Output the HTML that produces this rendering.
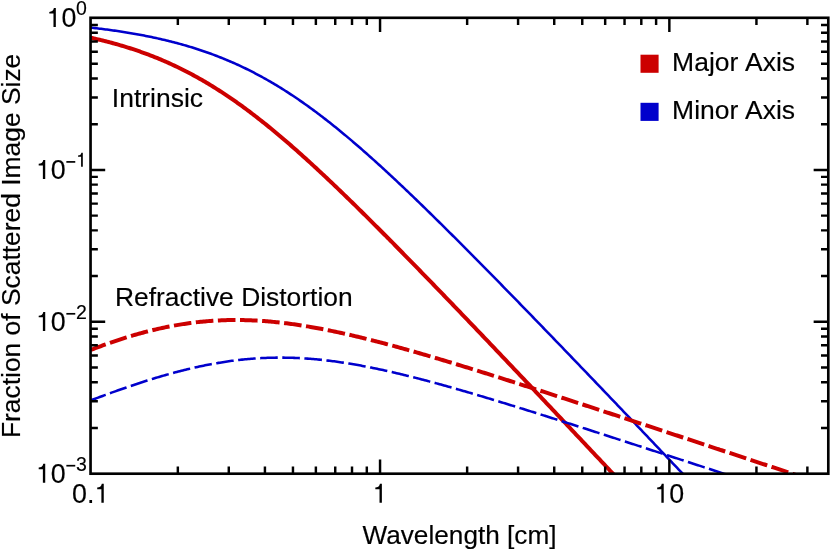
<!DOCTYPE html>
<html><head><meta charset="utf-8"><title>plot</title>
<style>
html,body{margin:0;padding:0;background:#fff;}
svg{display:block;will-change:transform;}
text{font-family:"Liberation Sans",sans-serif;fill:#000;stroke:#000;stroke-width:0.15px;}
</style></head><body>
<svg width="830" height="550" viewBox="0 0 830 550">
<rect width="830" height="550" fill="#fff"/>
<defs><clipPath id="c"><rect x="90.75" y="18.0" width="737.55" height="456.9"/></clipPath></defs>
<g clip-path="url(#c)" fill="none" stroke-linecap="butt" stroke-linejoin="round">
<path d="M90.75,37.74 L92.23,38.07 L93.72,38.40 L95.20,38.74 L96.69,39.08 L98.17,39.43 L99.66,39.78 L101.14,40.14 L102.62,40.50 L104.11,40.87 L105.59,41.25 L107.08,41.63 L108.56,42.01 L110.04,42.40 L111.53,42.80 L113.01,43.20 L114.50,43.61 L115.98,44.02 L117.47,44.44 L118.95,44.87 L120.43,45.30 L121.92,45.73 L123.40,46.18 L124.89,46.63 L126.37,47.08 L127.85,47.55 L129.34,48.01 L130.82,48.49 L132.31,48.97 L133.79,49.46 L135.28,49.96 L136.76,50.46 L138.24,50.97 L139.73,51.48 L141.21,52.01 L142.70,52.54 L144.18,53.07 L145.66,53.62 L147.15,54.17 L148.63,54.73 L150.12,55.29 L151.60,55.87 L153.09,56.45 L154.57,57.03 L156.05,57.63 L157.54,58.23 L159.02,58.84 L160.51,59.46 L161.99,60.09 L163.48,60.72 L164.96,61.37 L166.44,62.02 L167.93,62.67 L169.41,63.34 L170.90,64.02 L172.38,64.70 L173.86,65.39 L175.35,66.09 L176.83,66.79 L178.32,67.51 L179.80,68.23 L181.29,68.96 L182.77,69.70 L184.25,70.45 L185.74,71.21 L187.22,71.97 L188.71,72.75 L190.19,73.53 L191.67,74.32 L193.16,75.12 L194.64,75.93 L196.13,76.74 L197.61,77.57 L199.10,78.40 L200.58,79.24 L202.06,80.09 L203.55,80.95 L205.03,81.82 L206.52,82.70 L208.00,83.58 L209.48,84.47 L210.97,85.38 L212.45,86.29 L213.94,87.20 L215.42,88.13 L216.91,89.07 L218.39,90.01 L219.87,90.96 L221.36,91.92 L222.84,92.89 L224.33,93.87 L225.81,94.86 L227.29,95.85 L228.78,96.85 L230.26,97.86 L231.75,98.88 L233.23,99.91 L234.72,100.94 L236.20,101.99 L237.68,103.04 L239.17,104.10 L240.65,105.16 L242.14,106.24 L243.62,107.32 L245.11,108.41 L246.59,109.51 L248.07,110.61 L249.56,111.72 L251.04,112.84 L252.53,113.97 L254.01,115.10 L255.49,116.25 L256.98,117.40 L258.46,118.55 L259.95,119.71 L261.43,120.88 L262.92,122.06 L264.40,123.24 L265.88,124.43 L267.37,125.63 L268.85,126.84 L270.34,128.05 L271.82,129.26 L273.30,130.48 L274.79,131.71 L276.27,132.95 L277.76,134.19 L279.24,135.44 L280.73,136.69 L282.21,137.95 L283.69,139.21 L285.18,140.48 L286.66,141.76 L288.15,143.04 L289.63,144.33 L291.11,145.62 L292.60,146.92 L294.08,148.22 L295.57,149.53 L297.05,150.84 L298.54,152.16 L300.02,153.48 L301.50,154.81 L302.99,156.14 L304.47,157.48 L305.96,158.82 L307.44,160.17 L308.93,161.52 L310.41,162.87 L311.89,164.23 L313.38,165.60 L314.86,166.96 L316.35,168.34 L317.83,169.71 L319.31,171.09 L320.80,172.47 L322.28,173.86 L323.77,175.25 L325.25,176.65 L326.74,178.04 L328.22,179.45 L329.70,180.85 L331.19,182.26 L332.67,183.67 L334.16,185.09 L335.64,186.50 L337.12,187.92 L338.61,189.35 L340.09,190.78 L341.58,192.21 L343.06,193.64 L344.55,195.07 L346.03,196.51 L347.51,197.95 L349.00,199.40 L350.48,200.84 L351.97,202.29 L353.45,203.74 L354.93,205.20 L356.42,206.65 L357.90,208.11 L359.39,209.57 L360.87,211.04 L362.36,212.50 L363.84,213.97 L365.32,215.44 L366.81,216.91 L368.29,218.39 L369.78,219.86 L371.26,221.34 L372.75,222.82 L374.23,224.30 L375.71,225.79 L377.20,227.27 L378.68,228.76 L380.17,230.25 L381.65,231.74 L383.13,233.23 L384.62,234.72 L386.10,236.22 L387.59,237.72 L389.07,239.22 L390.56,240.72 L392.04,242.22 L393.52,243.72 L395.01,245.22 L396.49,246.73 L397.98,248.24 L399.46,249.75 L400.94,251.26 L402.43,252.77 L403.91,254.28 L405.40,255.79 L406.88,257.31 L408.37,258.82 L409.85,260.34 L411.33,261.86 L412.82,263.38 L414.30,264.90 L415.79,266.42 L417.27,267.94 L418.75,269.47 L420.24,270.99 L421.72,272.52 L423.21,274.04 L424.69,275.57 L426.18,277.10 L427.66,278.63 L429.14,280.16 L430.63,281.69 L432.11,283.22 L433.60,284.76 L435.08,286.29 L436.56,287.83 L438.05,289.36 L439.53,290.90 L441.02,292.43 L442.50,293.97 L443.99,295.51 L445.47,297.05 L446.95,298.59 L448.44,300.13 L449.92,301.67 L451.41,303.22 L452.89,304.76 L454.38,306.30 L455.86,307.85 L457.34,309.39 L458.83,310.94 L460.31,312.49 L461.80,314.03 L463.28,315.58 L464.76,317.13 L466.25,318.68 L467.73,320.23 L469.22,321.78 L470.70,323.33 L472.19,324.88 L473.67,326.43 L475.15,327.98 L476.64,329.54 L478.12,331.09 L479.61,332.64 L481.09,334.20 L482.57,335.75 L484.06,337.31 L485.54,338.86 L487.03,340.42 L488.51,341.98 L490.00,343.54 L491.48,345.09 L492.96,346.65 L494.45,348.21 L495.93,349.77 L497.42,351.33 L498.90,352.89 L500.38,354.45 L501.87,356.01 L503.35,357.57 L504.84,359.14 L506.32,360.70 L507.81,362.26 L509.29,363.83 L510.77,365.39 L512.26,366.95 L513.74,368.52 L515.23,370.08 L516.71,371.65 L518.20,373.21 L519.68,374.78 L521.16,376.35 L522.65,377.91 L524.13,379.48 L525.62,381.05 L527.10,382.61 L528.58,384.18 L530.07,385.75 L531.55,387.32 L533.04,388.89 L534.52,390.46 L536.01,392.03 L537.49,393.60 L538.97,395.17 L540.46,396.74 L541.94,398.31 L543.43,399.88 L544.91,401.45 L546.39,403.02 L547.88,404.60 L549.36,406.17 L550.85,407.74 L552.33,409.31 L553.82,410.89 L555.30,412.46 L556.78,414.03 L558.27,415.61 L559.75,417.18 L561.24,418.75 L562.72,420.33 L564.20,421.90 L565.69,423.48 L567.17,425.05 L568.66,426.63 L570.14,428.20 L571.63,429.78 L573.11,431.36 L574.59,432.93 L576.08,434.51 L577.56,436.08 L579.05,437.66 L580.53,439.24 L582.02,440.81 L583.50,442.39 L584.98,443.97 L586.47,445.55 L587.95,447.12 L589.44,448.70 L590.92,450.28 L592.40,451.85 L593.89,453.43 L595.37,455.01 L596.86,456.59 L598.34,458.17 L599.83,459.74 L601.31,461.32 L602.79,462.90 L604.28,464.48 L605.76,466.06 L607.25,467.63 L608.73,469.21 L610.21,470.79 L611.70,472.37 L613.18,473.95 L614.67,475.53 L616.15,477.10 L617.64,478.68 L619.12,480.26 L620.60,481.84 L622.09,483.42 L623.57,485.00 L625.06,486.57 L626.54,488.15 L628.02,489.73 L629.51,491.31 L630.99,492.89 L632.48,494.46 L633.96,496.04 L635.45,497.62 L636.93,499.20 L638.41,500.77 L639.90,502.35 L641.38,503.93 L642.87,505.50 L644.35,507.08 L645.83,508.66 L647.32,510.23 L648.80,511.81 L650.29,513.38 L651.77,514.96 L653.26,516.54 L654.74,518.11 L656.22,519.69 L657.71,521.26 L659.19,522.83 L660.68,524.41 L662.16,525.98 L663.65,527.56 L665.13,529.13 L666.61,530.70 L668.10,532.27 L669.58,533.85 L671.07,535.42 L672.55,536.99 L674.03,538.56 L675.52,540.13 L677.00,541.70 L678.49,543.27 L679.97,544.84 L681.46,546.41 L682.94,547.98 L684.42,549.55 L685.91,551.12 L687.39,552.68 L688.88,554.25 L690.36,555.82 L691.84,557.38 L693.33,558.95 L694.81,560.51 L696.30,562.08 L697.78,563.64 L699.27,565.21 L700.75,566.77 L702.23,568.33 L703.72,569.89 L705.20,571.45 L706.69,573.01 L708.17,574.57 L709.65,576.13 L711.14,577.69 L712.62,579.25 L714.11,580.80 L715.59,582.36 L717.08,583.92 L718.56,585.47 L720.04,587.02 L721.53,588.58 L723.01,590.13 L724.50,591.68 L725.98,593.23 L727.47,594.78 L728.95,596.33 L730.43,597.88 L731.92,599.43 L733.40,600.97 L734.89,602.52 L736.37,604.06 L737.85,605.61 L739.34,607.15 L740.82,608.69 L742.31,610.23 L743.79,611.77 L745.28,613.31 L746.76,614.85 L748.24,616.39 L749.73,617.92 L751.21,619.46 L752.70,620.99 L754.18,622.53 L755.66,624.06 L757.15,625.59 L758.63,627.12 L760.12,628.65 L761.60,630.17 L763.09,631.70 L764.57,633.22 L766.05,634.75 L767.54,636.27 L769.02,637.79 L770.51,639.31 L771.99,640.83 L773.47,642.34 L774.96,643.86 L776.44,645.37 L777.93,646.89 L779.41,648.40 L780.90,649.91 L782.38,651.42 L783.86,652.92 L785.35,654.43 L786.83,655.93 L788.32,657.44 L789.80,658.94 L791.29,660.44 L792.77,661.94 L794.25,663.43 L795.74,664.93 L797.22,666.42 L798.71,667.91 L800.19,669.40 L801.67,670.89 L803.16,672.38 L804.64,673.86 L806.13,675.35 L807.61,676.83 L809.10,678.31 L810.58,679.79 L812.06,681.26 L813.55,682.74 L815.03,684.21 L816.52,685.68 L818.00,687.15 L819.48,688.62 L820.97,690.08 L822.45,691.54 L823.94,693.01 L825.42,694.46 L826.91,695.92 L828.39,697.38 L829.87,698.83 L831.36,700.28" stroke="#cc0000" stroke-width="4"/>
<path d="M90.75,27.61 L92.23,27.78 L93.72,27.95 L95.20,28.12 L96.69,28.29 L98.17,28.47 L99.66,28.65 L101.14,28.84 L102.62,29.03 L104.11,29.22 L105.59,29.41 L107.08,29.60 L108.56,29.80 L110.04,30.01 L111.53,30.21 L113.01,30.42 L114.50,30.63 L115.98,30.85 L117.47,31.06 L118.95,31.28 L120.43,31.51 L121.92,31.74 L123.40,31.97 L124.89,32.20 L126.37,32.44 L127.85,32.69 L129.34,32.93 L130.82,33.18 L132.31,33.44 L133.79,33.69 L135.28,33.95 L136.76,34.22 L138.24,34.49 L139.73,34.76 L141.21,35.04 L142.70,35.32 L144.18,35.61 L145.66,35.90 L147.15,36.19 L148.63,36.49 L150.12,36.79 L151.60,37.10 L153.09,37.41 L154.57,37.73 L156.05,38.05 L157.54,38.38 L159.02,38.71 L160.51,39.05 L161.99,39.39 L163.48,39.73 L164.96,40.08 L166.44,40.44 L167.93,40.80 L169.41,41.17 L170.90,41.54 L172.38,41.92 L173.86,42.30 L175.35,42.69 L176.83,43.08 L178.32,43.48 L179.80,43.88 L181.29,44.29 L182.77,44.71 L184.25,45.13 L185.74,45.56 L187.22,45.99 L188.71,46.43 L190.19,46.88 L191.67,47.33 L193.16,47.79 L194.64,48.26 L196.13,48.73 L197.61,49.21 L199.10,49.69 L200.58,50.18 L202.06,50.68 L203.55,51.18 L205.03,51.70 L206.52,52.21 L208.00,52.74 L209.48,53.27 L210.97,53.81 L212.45,54.36 L213.94,54.91 L215.42,55.47 L216.91,56.04 L218.39,56.61 L219.87,57.19 L221.36,57.78 L222.84,58.38 L224.33,58.99 L225.81,59.60 L227.29,60.22 L228.78,60.85 L230.26,61.48 L231.75,62.12 L233.23,62.77 L234.72,63.43 L236.20,64.10 L237.68,64.78 L239.17,65.46 L240.65,66.15 L242.14,66.85 L243.62,67.55 L245.11,68.27 L246.59,68.99 L248.07,69.72 L249.56,70.46 L251.04,71.21 L252.53,71.97 L254.01,72.73 L255.49,73.51 L256.98,74.29 L258.46,75.08 L259.95,75.88 L261.43,76.68 L262.92,77.50 L264.40,78.32 L265.88,79.15 L267.37,79.99 L268.85,80.84 L270.34,81.70 L271.82,82.56 L273.30,83.44 L274.79,84.32 L276.27,85.21 L277.76,86.11 L279.24,87.02 L280.73,87.93 L282.21,88.86 L283.69,89.79 L285.18,90.73 L286.66,91.68 L288.15,92.63 L289.63,93.60 L291.11,94.57 L292.60,95.55 L294.08,96.54 L295.57,97.54 L297.05,98.55 L298.54,99.56 L300.02,100.58 L301.50,101.61 L302.99,102.65 L304.47,103.70 L305.96,104.75 L307.44,105.81 L308.93,106.88 L310.41,107.96 L311.89,109.04 L313.38,110.13 L314.86,111.23 L316.35,112.33 L317.83,113.45 L319.31,114.57 L320.80,115.70 L322.28,116.83 L323.77,117.97 L325.25,119.12 L326.74,120.28 L328.22,121.44 L329.70,122.61 L331.19,123.78 L332.67,124.96 L334.16,126.15 L335.64,127.35 L337.12,128.55 L338.61,129.76 L340.09,130.97 L341.58,132.19 L343.06,133.42 L344.55,134.65 L346.03,135.89 L347.51,137.13 L349.00,138.38 L350.48,139.64 L351.97,140.90 L353.45,142.16 L354.93,143.43 L356.42,144.71 L357.90,145.99 L359.39,147.28 L360.87,148.57 L362.36,149.87 L363.84,151.17 L365.32,152.48 L366.81,153.79 L368.29,155.11 L369.78,156.43 L371.26,157.75 L372.75,159.08 L374.23,160.42 L375.71,161.76 L377.20,163.10 L378.68,164.45 L380.17,165.80 L381.65,167.16 L383.13,168.52 L384.62,169.88 L386.10,171.25 L387.59,172.62 L389.07,173.99 L390.56,175.37 L392.04,176.75 L393.52,178.14 L395.01,179.52 L396.49,180.92 L397.98,182.31 L399.46,183.71 L400.94,185.11 L402.43,186.52 L403.91,187.92 L405.40,189.33 L406.88,190.75 L408.37,192.16 L409.85,193.58 L411.33,195.00 L412.82,196.43 L414.30,197.86 L415.79,199.29 L417.27,200.72 L418.75,202.15 L420.24,203.59 L421.72,205.03 L423.21,206.47 L424.69,207.92 L426.18,209.36 L427.66,210.81 L429.14,212.26 L430.63,213.72 L432.11,215.17 L433.60,216.63 L435.08,218.09 L436.56,219.55 L438.05,221.01 L439.53,222.47 L441.02,223.94 L442.50,225.41 L443.99,226.88 L445.47,228.35 L446.95,229.82 L448.44,231.30 L449.92,232.78 L451.41,234.25 L452.89,235.73 L454.38,237.21 L455.86,238.70 L457.34,240.18 L458.83,241.67 L460.31,243.15 L461.80,244.64 L463.28,246.13 L464.76,247.62 L466.25,249.11 L467.73,250.61 L469.22,252.10 L470.70,253.60 L472.19,255.10 L473.67,256.59 L475.15,258.09 L476.64,259.59 L478.12,261.09 L479.61,262.60 L481.09,264.10 L482.57,265.61 L484.06,267.11 L485.54,268.62 L487.03,270.13 L488.51,271.63 L490.00,273.14 L491.48,274.65 L492.96,276.17 L494.45,277.68 L495.93,279.19 L497.42,280.70 L498.90,282.22 L500.38,283.73 L501.87,285.25 L503.35,286.77 L504.84,288.29 L506.32,289.81 L507.81,291.32 L509.29,292.84 L510.77,294.37 L512.26,295.89 L513.74,297.41 L515.23,298.93 L516.71,300.46 L518.20,301.98 L519.68,303.51 L521.16,305.03 L522.65,306.56 L524.13,308.09 L525.62,309.61 L527.10,311.14 L528.58,312.67 L530.07,314.20 L531.55,315.73 L533.04,317.26 L534.52,318.79 L536.01,320.32 L537.49,321.86 L538.97,323.39 L540.46,324.92 L541.94,326.46 L543.43,327.99 L544.91,329.53 L546.39,331.06 L547.88,332.60 L549.36,334.13 L550.85,335.67 L552.33,337.21 L553.82,338.75 L555.30,340.29 L556.78,341.83 L558.27,343.36 L559.75,344.90 L561.24,346.45 L562.72,347.99 L564.20,349.53 L565.69,351.07 L567.17,352.61 L568.66,354.15 L570.14,355.70 L571.63,357.24 L573.11,358.79 L574.59,360.33 L576.08,361.87 L577.56,363.42 L579.05,364.97 L580.53,366.51 L582.02,368.06 L583.50,369.61 L584.98,371.15 L586.47,372.70 L587.95,374.25 L589.44,375.80 L590.92,377.35 L592.40,378.90 L593.89,380.45 L595.37,382.00 L596.86,383.55 L598.34,385.10 L599.83,386.65 L601.31,388.20 L602.79,389.75 L604.28,391.30 L605.76,392.86 L607.25,394.41 L608.73,395.96 L610.21,397.52 L611.70,399.07 L613.18,400.62 L614.67,402.18 L616.15,403.73 L617.64,405.29 L619.12,406.84 L620.60,408.40 L622.09,409.96 L623.57,411.51 L625.06,413.07 L626.54,414.63 L628.02,416.19 L629.51,417.74 L630.99,419.30 L632.48,420.86 L633.96,422.42 L635.45,423.98 L636.93,425.54 L638.41,427.10 L639.90,428.66 L641.38,430.22 L642.87,431.78 L644.35,433.34 L645.83,434.90 L647.32,436.46 L648.80,438.02 L650.29,439.58 L651.77,441.15 L653.26,442.71 L654.74,444.27 L656.22,445.83 L657.71,447.40 L659.19,448.96 L660.68,450.52 L662.16,452.09 L663.65,453.65 L665.13,455.22 L666.61,456.78 L668.10,458.34 L669.58,459.91 L671.07,461.47 L672.55,463.04 L674.03,464.61 L675.52,466.17 L677.00,467.74 L678.49,469.30 L679.97,470.87 L681.46,472.44 L682.94,474.00 L684.42,475.57 L685.91,477.14 L687.39,478.70 L688.88,480.27 L690.36,481.84 L691.84,483.41 L693.33,484.97 L694.81,486.54 L696.30,488.11 L697.78,489.68 L699.27,491.25 L700.75,492.82 L702.23,494.38 L703.72,495.95 L705.20,497.52 L706.69,499.09 L708.17,500.66 L709.65,502.23 L711.14,503.80 L712.62,505.37 L714.11,506.94 L715.59,508.51 L717.08,510.08 L718.56,511.65 L720.04,513.21 L721.53,514.78 L723.01,516.35 L724.50,517.92 L725.98,519.49 L727.47,521.06 L728.95,522.63 L730.43,524.20 L731.92,525.77 L733.40,527.34 L734.89,528.91 L736.37,530.48 L737.85,532.05 L739.34,533.62 L740.82,535.19 L742.31,536.76 L743.79,538.33 L745.28,539.90 L746.76,541.47 L748.24,543.04 L749.73,544.61 L751.21,546.18 L752.70,547.75 L754.18,549.32 L755.66,550.89 L757.15,552.45 L758.63,554.02 L760.12,555.59 L761.60,557.16 L763.09,558.73 L764.57,560.30 L766.05,561.87 L767.54,563.43 L769.02,565.00 L770.51,566.57 L771.99,568.14 L773.47,569.70 L774.96,571.27 L776.44,572.84 L777.93,574.40 L779.41,575.97 L780.90,577.54 L782.38,579.10 L783.86,580.67 L785.35,582.23 L786.83,583.80 L788.32,585.36 L789.80,586.93 L791.29,588.49 L792.77,590.05 L794.25,591.62 L795.74,593.18 L797.22,594.74 L798.71,596.31 L800.19,597.87 L801.67,599.43 L803.16,600.99 L804.64,602.55 L806.13,604.11 L807.61,605.67 L809.10,607.23 L810.58,608.79 L812.06,610.35 L813.55,611.91 L815.03,613.47 L816.52,615.02 L818.00,616.58 L819.48,618.14 L820.97,619.69 L822.45,621.25 L823.94,622.80 L825.42,624.36 L826.91,625.91 L828.39,627.47 L829.87,629.02 L831.36,630.57" stroke="#0000cc" stroke-width="2.55"/>
<path d="M90.75,349.93 L92.23,349.35 L93.72,348.79 L95.20,348.22 L96.69,347.66 L98.17,347.11 L99.66,346.55 L101.14,346.01 L102.62,345.47 L104.11,344.93 L105.59,344.39 L107.08,343.87 L108.56,343.34 L110.04,342.82 L111.53,342.31 L113.01,341.80 L114.50,341.29 L115.98,340.79 L117.47,340.30 L118.95,339.81 L120.43,339.32 L121.92,338.85 L123.40,338.37 L124.89,337.90 L126.37,337.44 L127.85,336.98 L129.34,336.53 L130.82,336.08 L132.31,335.64 L133.79,335.20 L135.28,334.77 L136.76,334.34 L138.24,333.92 L139.73,333.51 L141.21,333.10 L142.70,332.70 L144.18,332.30 L145.66,331.91 L147.15,331.52 L148.63,331.14 L150.12,330.77 L151.60,330.40 L153.09,330.04 L154.57,329.69 L156.05,329.34 L157.54,328.99 L159.02,328.66 L160.51,328.33 L161.99,328.00 L163.48,327.68 L164.96,327.37 L166.44,327.07 L167.93,326.77 L169.41,326.47 L170.90,326.19 L172.38,325.91 L173.86,325.63 L175.35,325.36 L176.83,325.10 L178.32,324.85 L179.80,324.60 L181.29,324.36 L182.77,324.12 L184.25,323.90 L185.74,323.67 L187.22,323.46 L188.71,323.25 L190.19,323.05 L191.67,322.85 L193.16,322.66 L194.64,322.48 L196.13,322.30 L197.61,322.13 L199.10,321.97 L200.58,321.82 L202.06,321.67 L203.55,321.52 L205.03,321.39 L206.52,321.26 L208.00,321.13 L209.48,321.02 L210.97,320.91 L212.45,320.80 L213.94,320.71 L215.42,320.61 L216.91,320.53 L218.39,320.45 L219.87,320.38 L221.36,320.32 L222.84,320.26 L224.33,320.21 L225.81,320.16 L227.29,320.12 L228.78,320.09 L230.26,320.06 L231.75,320.04 L233.23,320.03 L234.72,320.02 L236.20,320.02 L237.68,320.02 L239.17,320.03 L240.65,320.05 L242.14,320.07 L243.62,320.10 L245.11,320.13 L246.59,320.17 L248.07,320.22 L249.56,320.27 L251.04,320.33 L252.53,320.39 L254.01,320.46 L255.49,320.54 L256.98,320.62 L258.46,320.70 L259.95,320.80 L261.43,320.89 L262.92,321.00 L264.40,321.11 L265.88,321.22 L267.37,321.34 L268.85,321.46 L270.34,321.59 L271.82,321.73 L273.30,321.87 L274.79,322.01 L276.27,322.16 L277.76,322.32 L279.24,322.48 L280.73,322.64 L282.21,322.81 L283.69,322.99 L285.18,323.17 L286.66,323.35 L288.15,323.54 L289.63,323.74 L291.11,323.94 L292.60,324.14 L294.08,324.35 L295.57,324.56 L297.05,324.77 L298.54,324.99 L300.02,325.22 L301.50,325.45 L302.99,325.68 L304.47,325.92 L305.96,326.16 L307.44,326.40 L308.93,326.65 L310.41,326.91 L311.89,327.16 L313.38,327.42 L314.86,327.69 L316.35,327.96 L317.83,328.23 L319.31,328.51 L320.80,328.79 L322.28,329.07 L323.77,329.35 L325.25,329.64 L326.74,329.94 L328.22,330.23 L329.70,330.53 L331.19,330.84 L332.67,331.14 L334.16,331.45 L335.64,331.76 L337.12,332.08 L338.61,332.40 L340.09,332.72 L341.58,333.04 L343.06,333.37 L344.55,333.70 L346.03,334.04 L347.51,334.37 L349.00,334.71 L350.48,335.05 L351.97,335.40 L353.45,335.74 L354.93,336.09 L356.42,336.44 L357.90,336.80 L359.39,337.15 L360.87,337.51 L362.36,337.87 L363.84,338.24 L365.32,338.60 L366.81,338.97 L368.29,339.34 L369.78,339.71 L371.26,340.09 L372.75,340.47 L374.23,340.84 L375.71,341.23 L377.20,341.61 L378.68,341.99 L380.17,342.38 L381.65,342.77 L383.13,343.16 L384.62,343.55 L386.10,343.95 L387.59,344.34 L389.07,344.74 L390.56,345.14 L392.04,345.54 L393.52,345.94 L395.01,346.35 L396.49,346.76 L397.98,347.16 L399.46,347.57 L400.94,347.98 L402.43,348.40 L403.91,348.81 L405.40,349.23 L406.88,349.64 L408.37,350.06 L409.85,350.48 L411.33,350.90 L412.82,351.32 L414.30,351.75 L415.79,352.17 L417.27,352.60 L418.75,353.03 L420.24,353.46 L421.72,353.89 L423.21,354.32 L424.69,354.75 L426.18,355.18 L427.66,355.62 L429.14,356.05 L430.63,356.49 L432.11,356.93 L433.60,357.37 L435.08,357.80 L436.56,358.25 L438.05,358.69 L439.53,359.13 L441.02,359.57 L442.50,360.02 L443.99,360.46 L445.47,360.91 L446.95,361.36 L448.44,361.81 L449.92,362.25 L451.41,362.70 L452.89,363.15 L454.38,363.61 L455.86,364.06 L457.34,364.51 L458.83,364.97 L460.31,365.42 L461.80,365.88 L463.28,366.33 L464.76,366.79 L466.25,367.24 L467.73,367.70 L469.22,368.16 L470.70,368.62 L472.19,369.08 L473.67,369.54 L475.15,370.00 L476.64,370.46 L478.12,370.93 L479.61,371.39 L481.09,371.85 L482.57,372.32 L484.06,372.78 L485.54,373.25 L487.03,373.71 L488.51,374.18 L490.00,374.65 L491.48,375.11 L492.96,375.58 L494.45,376.05 L495.93,376.52 L497.42,376.99 L498.90,377.46 L500.38,377.93 L501.87,378.40 L503.35,378.87 L504.84,379.34 L506.32,379.81 L507.81,380.28 L509.29,380.76 L510.77,381.23 L512.26,381.70 L513.74,382.18 L515.23,382.65 L516.71,383.12 L518.20,383.60 L519.68,384.07 L521.16,384.55 L522.65,385.03 L524.13,385.50 L525.62,385.98 L527.10,386.45 L528.58,386.93 L530.07,387.41 L531.55,387.89 L533.04,388.37 L534.52,388.84 L536.01,389.32 L537.49,389.80 L538.97,390.28 L540.46,390.76 L541.94,391.24 L543.43,391.72 L544.91,392.20 L546.39,392.68 L547.88,393.16 L549.36,393.64 L550.85,394.12 L552.33,394.60 L553.82,395.08 L555.30,395.57 L556.78,396.05 L558.27,396.53 L559.75,397.01 L561.24,397.50 L562.72,397.98 L564.20,398.46 L565.69,398.94 L567.17,399.43 L568.66,399.91 L570.14,400.39 L571.63,400.88 L573.11,401.36 L574.59,401.85 L576.08,402.33 L577.56,402.82 L579.05,403.30 L580.53,403.78 L582.02,404.27 L583.50,404.76 L584.98,405.24 L586.47,405.73 L587.95,406.21 L589.44,406.70 L590.92,407.18 L592.40,407.67 L593.89,408.16 L595.37,408.64 L596.86,409.13 L598.34,409.61 L599.83,410.10 L601.31,410.59 L602.79,411.07 L604.28,411.56 L605.76,412.05 L607.25,412.54 L608.73,413.02 L610.21,413.51 L611.70,414.00 L613.18,414.49 L614.67,414.97 L616.15,415.46 L617.64,415.95 L619.12,416.44 L620.60,416.92 L622.09,417.41 L623.57,417.90 L625.06,418.39 L626.54,418.88 L628.02,419.37 L629.51,419.86 L630.99,420.34 L632.48,420.83 L633.96,421.32 L635.45,421.81 L636.93,422.30 L638.41,422.79 L639.90,423.28 L641.38,423.77 L642.87,424.26 L644.35,424.75 L645.83,425.23 L647.32,425.72 L648.80,426.21 L650.29,426.70 L651.77,427.19 L653.26,427.68 L654.74,428.17 L656.22,428.66 L657.71,429.15 L659.19,429.64 L660.68,430.13 L662.16,430.62 L663.65,431.11 L665.13,431.60 L666.61,432.09 L668.10,432.58 L669.58,433.07 L671.07,433.56 L672.55,434.05 L674.03,434.54 L675.52,435.03 L677.00,435.52 L678.49,436.02 L679.97,436.51 L681.46,437.00 L682.94,437.49 L684.42,437.98 L685.91,438.47 L687.39,438.96 L688.88,439.45 L690.36,439.94 L691.84,440.43 L693.33,440.92 L694.81,441.41 L696.30,441.91 L697.78,442.40 L699.27,442.89 L700.75,443.38 L702.23,443.87 L703.72,444.36 L705.20,444.85 L706.69,445.34 L708.17,445.83 L709.65,446.33 L711.14,446.82 L712.62,447.31 L714.11,447.80 L715.59,448.29 L717.08,448.78 L718.56,449.27 L720.04,449.77 L721.53,450.26 L723.01,450.75 L724.50,451.24 L725.98,451.73 L727.47,452.22 L728.95,452.71 L730.43,453.21 L731.92,453.70 L733.40,454.19 L734.89,454.68 L736.37,455.17 L737.85,455.66 L739.34,456.16 L740.82,456.65 L742.31,457.14 L743.79,457.63 L745.28,458.12 L746.76,458.61 L748.24,459.11 L749.73,459.60 L751.21,460.09 L752.70,460.58 L754.18,461.07 L755.66,461.57 L757.15,462.06 L758.63,462.55 L760.12,463.04 L761.60,463.53 L763.09,464.03 L764.57,464.52 L766.05,465.01 L767.54,465.50 L769.02,465.99 L770.51,466.49 L771.99,466.98 L773.47,467.47 L774.96,467.96 L776.44,468.45 L777.93,468.95 L779.41,469.44 L780.90,469.93 L782.38,470.42 L783.86,470.92 L785.35,471.41 L786.83,471.90 L788.32,472.39 L789.80,472.88 L791.29,473.38 L792.77,473.87 L794.25,474.36 L795.74,474.85 L797.22,475.34 L798.71,475.84 L800.19,476.33 L801.67,476.82 L803.16,477.31 L804.64,477.81 L806.13,478.30 L807.61,478.79 L809.10,479.28 L810.58,479.78 L812.06,480.27 L813.55,480.76 L815.03,481.25 L816.52,481.74 L818.00,482.24 L819.48,482.73 L820.97,483.22 L822.45,483.71 L823.94,484.21 L825.42,484.70 L826.91,485.19 L828.39,485.68 L829.87,486.18 L831.36,486.67" stroke="#cc0000" stroke-width="4" stroke-dasharray="17.6 4.52" stroke-dashoffset="1.65"/>
<path d="M90.75,400.38 L92.23,399.81 L93.72,399.25 L95.20,398.69 L96.69,398.14 L98.17,397.58 L99.66,397.03 L101.14,396.48 L102.62,395.93 L104.11,395.38 L105.59,394.83 L107.08,394.29 L108.56,393.75 L110.04,393.21 L111.53,392.67 L113.01,392.14 L114.50,391.61 L115.98,391.08 L117.47,390.55 L118.95,390.02 L120.43,389.50 L121.92,388.98 L123.40,388.46 L124.89,387.95 L126.37,387.44 L127.85,386.93 L129.34,386.42 L130.82,385.92 L132.31,385.42 L133.79,384.92 L135.28,384.42 L136.76,383.93 L138.24,383.44 L139.73,382.96 L141.21,382.47 L142.70,382.00 L144.18,381.52 L145.66,381.05 L147.15,380.58 L148.63,380.11 L150.12,379.65 L151.60,379.19 L153.09,378.73 L154.57,378.28 L156.05,377.83 L157.54,377.38 L159.02,376.94 L160.51,376.50 L161.99,376.07 L163.48,375.64 L164.96,375.21 L166.44,374.79 L167.93,374.37 L169.41,373.96 L170.90,373.55 L172.38,373.14 L173.86,372.74 L175.35,372.34 L176.83,371.95 L178.32,371.56 L179.80,371.17 L181.29,370.79 L182.77,370.42 L184.25,370.05 L185.74,369.68 L187.22,369.32 L188.71,368.96 L190.19,368.61 L191.67,368.26 L193.16,367.92 L194.64,367.58 L196.13,367.25 L197.61,366.92 L199.10,366.60 L200.58,366.28 L202.06,365.97 L203.55,365.66 L205.03,365.36 L206.52,365.06 L208.00,364.77 L209.48,364.48 L210.97,364.20 L212.45,363.93 L213.94,363.66 L215.42,363.39 L216.91,363.14 L218.39,362.88 L219.87,362.64 L221.36,362.39 L222.84,362.16 L224.33,361.93 L225.81,361.70 L227.29,361.48 L228.78,361.27 L230.26,361.06 L231.75,360.86 L233.23,360.67 L234.72,360.48 L236.20,360.29 L237.68,360.12 L239.17,359.94 L240.65,359.78 L242.14,359.62 L243.62,359.47 L245.11,359.32 L246.59,359.18 L248.07,359.04 L249.56,358.91 L251.04,358.79 L252.53,358.67 L254.01,358.56 L255.49,358.46 L256.98,358.36 L258.46,358.27 L259.95,358.18 L261.43,358.10 L262.92,358.03 L264.40,357.96 L265.88,357.90 L267.37,357.84 L268.85,357.79 L270.34,357.75 L271.82,357.71 L273.30,357.68 L274.79,357.65 L276.27,357.64 L277.76,357.62 L279.24,357.62 L280.73,357.62 L282.21,357.62 L283.69,357.63 L285.18,357.65 L286.66,357.67 L288.15,357.70 L289.63,357.74 L291.11,357.78 L292.60,357.82 L294.08,357.88 L295.57,357.94 L297.05,358.00 L298.54,358.07 L300.02,358.14 L301.50,358.23 L302.99,358.31 L304.47,358.41 L305.96,358.50 L307.44,358.61 L308.93,358.72 L310.41,358.83 L311.89,358.95 L313.38,359.07 L314.86,359.20 L316.35,359.34 L317.83,359.48 L319.31,359.63 L320.80,359.78 L322.28,359.93 L323.77,360.10 L325.25,360.26 L326.74,360.43 L328.22,360.61 L329.70,360.79 L331.19,360.98 L332.67,361.17 L334.16,361.36 L335.64,361.56 L337.12,361.77 L338.61,361.97 L340.09,362.19 L341.58,362.41 L343.06,362.63 L344.55,362.85 L346.03,363.09 L347.51,363.32 L349.00,363.56 L350.48,363.80 L351.97,364.05 L353.45,364.30 L354.93,364.56 L356.42,364.82 L357.90,365.08 L359.39,365.35 L360.87,365.62 L362.36,365.90 L363.84,366.17 L365.32,366.46 L366.81,366.74 L368.29,367.03 L369.78,367.32 L371.26,367.62 L372.75,367.92 L374.23,368.22 L375.71,368.53 L377.20,368.84 L378.68,369.15 L380.17,369.47 L381.65,369.79 L383.13,370.11 L384.62,370.43 L386.10,370.76 L387.59,371.09 L389.07,371.43 L390.56,371.76 L392.04,372.10 L393.52,372.45 L395.01,372.79 L396.49,373.14 L397.98,373.49 L399.46,373.84 L400.94,374.20 L402.43,374.55 L403.91,374.91 L405.40,375.28 L406.88,375.64 L408.37,376.01 L409.85,376.38 L411.33,376.75 L412.82,377.12 L414.30,377.50 L415.79,377.88 L417.27,378.26 L418.75,378.64 L420.24,379.03 L421.72,379.41 L423.21,379.80 L424.69,380.19 L426.18,380.58 L427.66,380.98 L429.14,381.37 L430.63,381.77 L432.11,382.17 L433.60,382.57 L435.08,382.97 L436.56,383.38 L438.05,383.79 L439.53,384.19 L441.02,384.60 L442.50,385.01 L443.99,385.43 L445.47,385.84 L446.95,386.25 L448.44,386.67 L449.92,387.09 L451.41,387.51 L452.89,387.93 L454.38,388.35 L455.86,388.77 L457.34,389.20 L458.83,389.63 L460.31,390.05 L461.80,390.48 L463.28,390.91 L464.76,391.34 L466.25,391.77 L467.73,392.21 L469.22,392.64 L470.70,393.07 L472.19,393.51 L473.67,393.95 L475.15,394.39 L476.64,394.83 L478.12,395.27 L479.61,395.71 L481.09,396.15 L482.57,396.59 L484.06,397.04 L485.54,397.48 L487.03,397.93 L488.51,398.37 L490.00,398.82 L491.48,399.27 L492.96,399.72 L494.45,400.17 L495.93,400.62 L497.42,401.07 L498.90,401.52 L500.38,401.97 L501.87,402.42 L503.35,402.88 L504.84,403.33 L506.32,403.79 L507.81,404.24 L509.29,404.70 L510.77,405.16 L512.26,405.62 L513.74,406.07 L515.23,406.53 L516.71,406.99 L518.20,407.45 L519.68,407.91 L521.16,408.37 L522.65,408.84 L524.13,409.30 L525.62,409.76 L527.10,410.22 L528.58,410.69 L530.07,411.15 L531.55,411.62 L533.04,412.08 L534.52,412.55 L536.01,413.01 L537.49,413.48 L538.97,413.95 L540.46,414.41 L541.94,414.88 L543.43,415.35 L544.91,415.82 L546.39,416.29 L547.88,416.76 L549.36,417.22 L550.85,417.69 L552.33,418.17 L553.82,418.64 L555.30,419.11 L556.78,419.58 L558.27,420.05 L559.75,420.52 L561.24,420.99 L562.72,421.47 L564.20,421.94 L565.69,422.41 L567.17,422.88 L568.66,423.36 L570.14,423.83 L571.63,424.31 L573.11,424.78 L574.59,425.26 L576.08,425.73 L577.56,426.21 L579.05,426.68 L580.53,427.16 L582.02,427.63 L583.50,428.11 L584.98,428.58 L586.47,429.06 L587.95,429.54 L589.44,430.02 L590.92,430.49 L592.40,430.97 L593.89,431.45 L595.37,431.92 L596.86,432.40 L598.34,432.88 L599.83,433.36 L601.31,433.84 L602.79,434.32 L604.28,434.79 L605.76,435.27 L607.25,435.75 L608.73,436.23 L610.21,436.71 L611.70,437.19 L613.18,437.67 L614.67,438.15 L616.15,438.63 L617.64,439.11 L619.12,439.59 L620.60,440.07 L622.09,440.55 L623.57,441.03 L625.06,441.51 L626.54,441.99 L628.02,442.47 L629.51,442.96 L630.99,443.44 L632.48,443.92 L633.96,444.40 L635.45,444.88 L636.93,445.36 L638.41,445.84 L639.90,446.33 L641.38,446.81 L642.87,447.29 L644.35,447.77 L645.83,448.25 L647.32,448.74 L648.80,449.22 L650.29,449.70 L651.77,450.18 L653.26,450.67 L654.74,451.15 L656.22,451.63 L657.71,452.12 L659.19,452.60 L660.68,453.08 L662.16,453.56 L663.65,454.05 L665.13,454.53 L666.61,455.01 L668.10,455.50 L669.58,455.98 L671.07,456.46 L672.55,456.95 L674.03,457.43 L675.52,457.92 L677.00,458.40 L678.49,458.88 L679.97,459.37 L681.46,459.85 L682.94,460.33 L684.42,460.82 L685.91,461.30 L687.39,461.79 L688.88,462.27 L690.36,462.76 L691.84,463.24 L693.33,463.72 L694.81,464.21 L696.30,464.69 L697.78,465.18 L699.27,465.66 L700.75,466.15 L702.23,466.63 L703.72,467.12 L705.20,467.60 L706.69,468.08 L708.17,468.57 L709.65,469.05 L711.14,469.54 L712.62,470.02 L714.11,470.51 L715.59,470.99 L717.08,471.48 L718.56,471.96 L720.04,472.45 L721.53,472.93 L723.01,473.42 L724.50,473.90 L725.98,474.39 L727.47,474.87 L728.95,475.36 L730.43,475.84 L731.92,476.33 L733.40,476.81 L734.89,477.30 L736.37,477.79 L737.85,478.27 L739.34,478.76 L740.82,479.24 L742.31,479.73 L743.79,480.21 L745.28,480.70 L746.76,481.18 L748.24,481.67 L749.73,482.15 L751.21,482.64 L752.70,483.12 L754.18,483.61 L755.66,484.10 L757.15,484.58 L758.63,485.07 L760.12,485.55 L761.60,486.04 L763.09,486.52 L764.57,487.01 L766.05,487.50 L767.54,487.98 L769.02,488.47 L770.51,488.95 L771.99,489.44 L773.47,489.92 L774.96,490.41 L776.44,490.90 L777.93,491.38 L779.41,491.87 L780.90,492.35 L782.38,492.84 L783.86,493.32 L785.35,493.81 L786.83,494.30 L788.32,494.78 L789.80,495.27 L791.29,495.75 L792.77,496.24 L794.25,496.73 L795.74,497.21 L797.22,497.70 L798.71,498.18 L800.19,498.67 L801.67,499.16 L803.16,499.64 L804.64,500.13 L806.13,500.61 L807.61,501.10 L809.10,501.59 L810.58,502.07 L812.06,502.56 L813.55,503.04 L815.03,503.53 L816.52,504.02 L818.00,504.50 L819.48,504.99 L820.97,505.47 L822.45,505.96 L823.94,506.45 L825.42,506.93 L826.91,507.42 L828.39,507.90 L829.87,508.39 L831.36,508.88" stroke="#0000cc" stroke-width="2.55" stroke-dasharray="17.6 4.52" stroke-dashoffset="1.65"/>
</g>
<path d="M177.84,473.7 v-7.08 M177.84,17.8 v7.08 M228.78,473.7 v-7.08 M228.78,17.8 v7.08 M264.93,473.7 v-7.08 M264.93,17.8 v7.08 M292.96,473.7 v-7.08 M292.96,17.8 v7.08 M315.87,473.7 v-7.08 M315.87,17.8 v7.08 M335.24,473.7 v-7.08 M335.24,17.8 v7.08 M352.01,473.7 v-7.08 M352.01,17.8 v7.08 M366.81,473.7 v-7.08 M366.81,17.8 v7.08 M380.05,473.7 v-14.21 M380.05,17.8 v14.21 M467.14,473.7 v-7.08 M467.14,17.8 v7.08 M518.08,473.7 v-7.08 M518.08,17.8 v7.08 M554.23,473.7 v-7.08 M554.23,17.8 v7.08 M582.26,473.7 v-7.08 M582.26,17.8 v7.08 M605.17,473.7 v-7.08 M605.17,17.8 v7.08 M624.54,473.7 v-7.08 M624.54,17.8 v7.08 M641.31,473.7 v-7.08 M641.31,17.8 v7.08 M656.11,473.7 v-7.08 M656.11,17.8 v7.08 M669.35,473.7 v-14.21 M669.35,17.8 v14.21 M756.44,473.7 v-7.08 M756.44,17.8 v7.08 M807.38,473.7 v-7.08 M807.38,17.8 v7.08 M90.55,124.17 h7.3 M828.3,124.17 h-7.3 M90.55,97.43 h7.3 M828.3,97.43 h-7.3 M90.55,78.45 h7.3 M828.3,78.45 h-7.3 M90.55,63.73 h7.3 M828.3,63.73 h-7.3 M90.55,51.70 h7.3 M828.3,51.70 h-7.3 M90.55,41.53 h7.3 M828.3,41.53 h-7.3 M90.55,32.72 h7.3 M828.3,32.72 h-7.3 M90.55,24.95 h7.3 M828.3,24.95 h-7.3 M90.55,169.90 h14.65 M828.3,169.90 h-14.65 M90.55,276.07 h7.3 M828.3,276.07 h-7.3 M90.55,249.33 h7.3 M828.3,249.33 h-7.3 M90.55,230.35 h7.3 M828.3,230.35 h-7.3 M90.55,215.63 h7.3 M828.3,215.63 h-7.3 M90.55,203.60 h7.3 M828.3,203.60 h-7.3 M90.55,193.43 h7.3 M828.3,193.43 h-7.3 M90.55,184.62 h7.3 M828.3,184.62 h-7.3 M90.55,176.85 h7.3 M828.3,176.85 h-7.3 M90.55,321.80 h14.65 M828.3,321.80 h-14.65 M90.55,427.97 h7.3 M828.3,427.97 h-7.3 M90.55,401.23 h7.3 M828.3,401.23 h-7.3 M90.55,382.25 h7.3 M828.3,382.25 h-7.3 M90.55,367.53 h7.3 M828.3,367.53 h-7.3 M90.55,355.50 h7.3 M828.3,355.50 h-7.3 M90.55,345.33 h7.3 M828.3,345.33 h-7.3 M90.55,336.52 h7.3 M828.3,336.52 h-7.3 M90.55,328.75 h7.3 M828.3,328.75 h-7.3" stroke="#000" stroke-width="2.45" fill="none"/>
<rect x="90.55" y="17.8" width="737.75" height="455.9" fill="none" stroke="#000" stroke-width="2.65"/>
<rect x="640.5" y="54.7" width="18.1" height="18.1" fill="#cc0000"/>
<rect x="640.5" y="102.8" width="18.1" height="18.1" fill="#0000cc"/>
<text x="672.1" y="70.8" font-size="26.5" word-spacing="0.8">Major Axis</text>
<text x="672.1" y="118.5" font-size="26.5" word-spacing="0.8">Minor Axis</text>
<text x="111.8" y="107" font-size="26.5">Intrinsic</text>
<text x="115.0" y="305.7" font-size="26.4">Refractive Distortion</text>
<text x="459.5" y="543.8" font-size="26.2" text-anchor="middle">Wavelength [cm]</text>
<text transform="translate(19.8,245.9) rotate(-90)" font-size="26.4" text-anchor="middle">Fraction of Scattered Image Size</text>
<text x="76.06" y="14.80" font-size="19.5">0</text><path d="M346,0H258V505H102V568C182,568 258,600 274,709H346Z" transform="translate(46.56,27.10) scale(0.02680,-0.02680)"/><text x="61.46" y="27.10" font-size="26.8">0</text><path d="M346,0H258V505H102V568C182,568 258,600 274,709H346Z" transform="translate(76.06,166.70) scale(0.01950,-0.01950)"/><rect x="66.36" y="161.05" width="8.9" height="1.7"/><path d="M346,0H258V505H102V568C182,568 258,600 274,709H346Z" transform="translate(35.96,179.00) scale(0.02680,-0.02680)"/><text x="50.86" y="179.00" font-size="26.8">0</text><text x="76.06" y="318.60" font-size="19.5">2</text><rect x="66.36" y="312.95" width="8.9" height="1.7"/><path d="M346,0H258V505H102V568C182,568 258,600 274,709H346Z" transform="translate(35.96,330.90) scale(0.02680,-0.02680)"/><text x="50.86" y="330.90" font-size="26.8">0</text><text x="76.06" y="470.50" font-size="19.5">3</text><rect x="66.36" y="464.85" width="8.9" height="1.7"/><path d="M346,0H258V505H102V568C182,568 258,600 274,709H346Z" transform="translate(35.96,482.80) scale(0.02680,-0.02680)"/><text x="50.86" y="482.80" font-size="26.8">0</text>
<text x="72.12" y="502.80" font-size="26.8">0</text><text x="87.02" y="502.80" font-size="26.8">.</text><path d="M346,0H258V505H102V568C182,568 258,600 274,709H346Z" transform="translate(94.48,502.80) scale(0.02680,-0.02680)"/><path d="M346,0H258V505H102V568C182,568 258,600 274,709H346Z" transform="translate(372.60,502.80) scale(0.02680,-0.02680)"/><path d="M346,0H258V505H102V568C182,568 258,600 274,709H346Z" transform="translate(654.45,502.80) scale(0.02680,-0.02680)"/><text x="669.35" y="502.80" font-size="26.8">0</text>
</svg>
</body></html>
